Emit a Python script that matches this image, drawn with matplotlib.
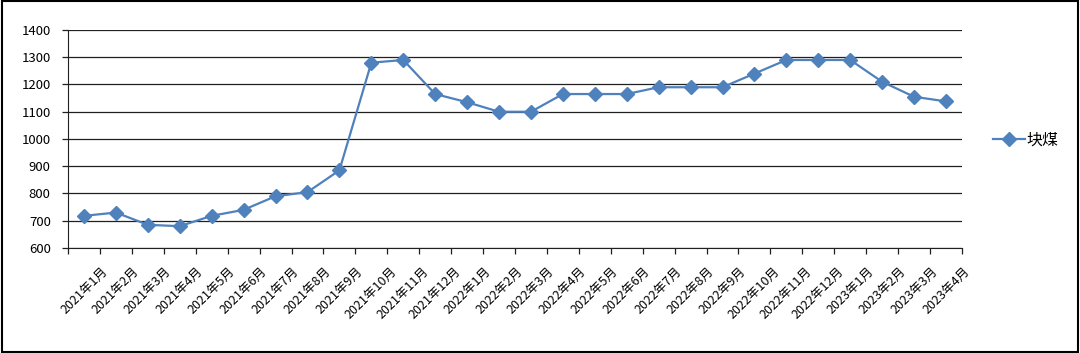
import numpy as np
import matplotlib
matplotlib.use('Agg')
import matplotlib.pyplot as plt
from matplotlib.patches import Rectangle
from matplotlib.ticker import FixedLocator, MultipleLocator

plt.rcParams['font.family'] = ['Noto Sans CJK SC', 'DejaVu Sans']

# Monthly labels, Jan 2021 - Apr 2023
months = ['2021年1月', '2021年2月', '2021年3月', '2021年4月', '2021年5月', '2021年6月',
          '2021年7月', '2021年8月', '2021年9月', '2021年10月', '2021年11月', '2021年12月',
          '2022年1月', '2022年2月', '2022年3月', '2022年4月', '2022年5月', '2022年6月',
          '2022年7月', '2022年8月', '2022年9月', '2022年10月', '2022年11月', '2022年12月',
          '2023年1月', '2023年2月', '2023年3月', '2023年4月']
# Lump coal price series
lump_coal = [718, 730, 685, 680, 718, 740, 790, 805, 885, 1280, 1290, 1165,
             1135, 1100, 1100, 1165, 1165, 1165, 1190, 1190, 1190, 1240, 1290, 1290,
             1290, 1210, 1155, 1138]
series_name = '块煤'

fig = plt.figure(figsize=(10.8, 3.53), dpi=100)
ax = fig.add_axes([0.063, 0.2975, 0.8277, 0.6175])

x = np.arange(len(months))
line, = ax.plot(x, lump_coal, color='#4F81BD', lw=1.6, marker='D', ms=7,
                mfc='#4F81BD', mec='#4F81BD', label=series_name, zorder=3)

ax.set_xlim(-0.5, len(months) - 0.5)
ax.set_ylim(600, 1400)
ax.yaxis.set_major_locator(MultipleLocator(100))
ax.grid(axis='y', color='#202020', lw=0.9)
ax.set_axisbelow(True)

for side in ['top', 'right']:
    ax.spines[side].set_visible(False)
ax.spines['left'].set_color('#202020')
ax.spines['bottom'].set_color('#202020')

# category labels centred, tick marks between categories
ax.set_xticks(x)
ax.set_xticklabels(months, rotation=45, ha='center', va='top', fontsize=9)
ax.tick_params(axis='x', which='major', length=0, pad=12)
ax.xaxis.set_minor_locator(FixedLocator(np.arange(len(months) + 1) - 0.5))
ax.tick_params(axis='x', which='minor', length=4, width=0.9, color='#202020')
ax.tick_params(axis='y', length=4.5, width=0.9, color='#202020', pad=8, labelsize=9.5)

fig.legend(handles=[line], labels=[series_name], loc='center left',
           bbox_to_anchor=(0.906, 0.603), frameon=False, fontsize=11.5,
           handlelength=2.0, handletextpad=0.1, markerscale=1.0)

# outer frame round the whole picture
fig.patches.append(Rectangle((0.0015, 0.004), 0.997, 0.992, transform=fig.transFigure,
                             fill=False, edgecolor='black', lw=1.5))

fig.savefig('out.png', dpi=100)
